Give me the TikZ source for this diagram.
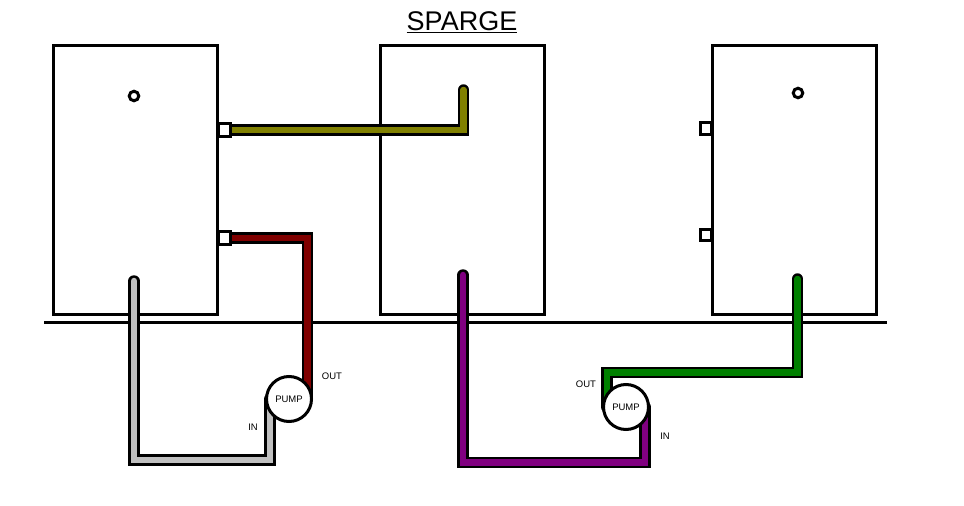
\documentclass[tikz,border=0pt]{standalone}
\usepackage{fontspec}
\setmainfont{Liberation Sans}
\pgfdeclarelayer{back}
\pgfdeclarelayer{pipes}
\pgfsetlayers{back,pipes,main}
\definecolor{pipeolive}{HTML}{808000}
\definecolor{pipered}{HTML}{800000}
\definecolor{pipegrey}{HTML}{C0C0C0}
\definecolor{pipepurple}{HTML}{800080}
\definecolor{pipegreen}{HTML}{008000}
\tikzset{
  vessel/.style={rectangle, draw, line width=3pt, minimum width=164pt, minimum height=269pt, inner sep=0pt},
  port/.style={rectangle, draw, fill=white, line width=3pt, minimum size=11.5pt, inner sep=0pt},
  probe/.style={circle, draw, fill=white, line width=3pt, minimum size=9.5pt, inner sep=0pt},
  pump/.style={circle, draw, fill=white, line width=3pt, minimum size=45pt, inner sep=0pt, font=\fontsize{9.5pt}{11pt}\selectfont},
  tag/.style={inner sep=0pt, font=\fontsize{9.5pt}{11pt}\selectfont},
  floor/.style={line width=3pt},
  pipe/.style={draw=black, double=#1, line width=2.5pt, double distance=6.5pt, line join=miter}
}

\begin{document}
\begin{tikzpicture}[x=1pt, y=-1pt]
    \useasboundingbox (0,0) rectangle (964,506);

    \node[inner sep=0pt, font=\fontsize{27pt}{30pt}\selectfont] (title) at (462,22) {\underline{SPARGE}};

    \begin{pgfonlayer}{back}
      \node[vessel] (hlt) at (135,179.5) {};
      \node[vessel] (mash) at (462,179.5) {};
      \node[vessel] (boil) at (794,179.5) {};
      \coordinate (floorL) at (44,322);
      \coordinate (floorR) at (887,322);
      \draw[floor] (floorL) -- (floorR);
    \end{pgfonlayer}

    \node[probe] (hltprobe) at (134,96) {};
    \node[probe] (boilprobe) at (798,93) {};
    \node[port, minimum size=12.5pt] (hltA) at (224.5,130) {};
    \node[port, minimum size=12.5pt] (hltB) at (224.5,238) {};
    \node[port] (boilA) at (706,128.5) {};
    \node[port] (boilB) at (706,235) {};
    \node[pump] (pumpA) at (289,399) {PUMP};
    \node[pump] (pumpB) at (626,407) {PUMP};

    \node[tag] (outA) at (332,376) {OUT};
    \node[tag] (inA) at (253,427) {IN};
    \node[tag] (outB) at (586,384) {OUT};
    \node[tag] (inB) at (665,436) {IN};

    \coordinate (oliveTop) at (463.5,90);
    \coordinate (greyTop) at (134,281);
    \coordinate (greyBend) at (270,460);
    \coordinate (purpleTop) at (463,275);
    \coordinate (purpleBend) at (645,462.5);
    \coordinate (greenTop) at (797.5,279);
    \coordinate (greenBend) at (607,372.5);
    \coordinate (redBend) at (307.5,238);

    \begin{pgfonlayer}{pipes}
      \draw[pipe=pipeolive, line cap=round] (oliveTop) |- (hltA.center);
      \draw[pipe=pipered] (hltB.center) -- (redBend) -- (redBend |- pumpA.center);
      \draw[pipe=pipegrey, line cap=round] (greyTop) |- (greyBend) -- (greyBend |- pumpA.center);
      \draw[pipe=pipepurple, line cap=round] (purpleTop) |- (purpleBend) -- (purpleBend |- pumpB.center);
      \draw[pipe=pipegreen, line cap=round] (greenTop) |- (greenBend) -- (greenBend |- pumpB.center);
    \end{pgfonlayer}
\end{tikzpicture}
\end{document}
